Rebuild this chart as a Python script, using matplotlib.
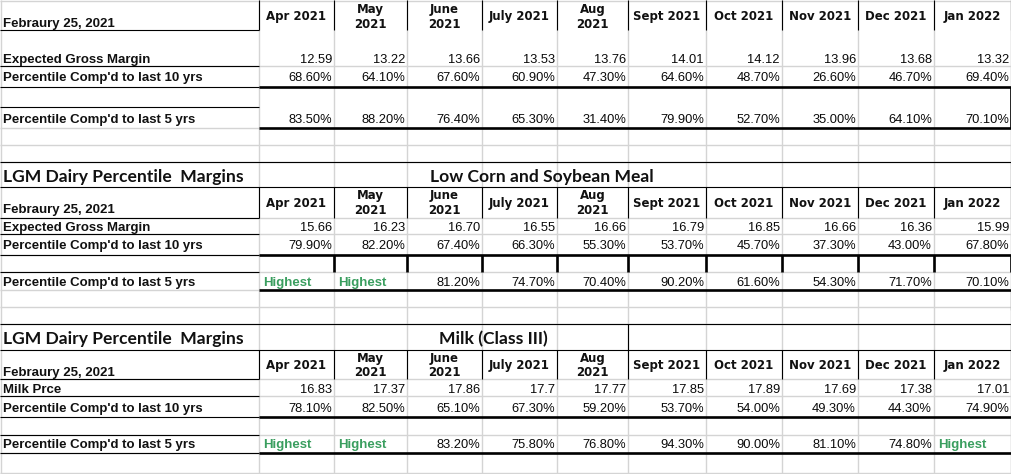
import matplotlib
matplotlib.use("Agg")
import matplotlib.pyplot as plt

# --- data ---
months = ["Apr 2021", "May\n2021", "June\n2021", "July 2021", "Aug\n2021",
          "Sept 2021", "Oct 2021", "Nov 2021", "Dec 2021", "Jan 2022"]
date_label = "Febraury 25, 2021"
title = "LGM Dairy Percentile  Margins"

egm_base = [12.59, 13.22, 13.66, 13.53, 13.76, 14.01, 14.12, 13.96, 13.68, 13.32]
p10_base = [68.6, 64.1, 67.6, 60.9, 47.3, 64.6, 48.7, 26.6, 46.7, 69.4]
p5_base = [83.5, 88.2, 76.4, 65.3, 31.4, 79.9, 52.7, 35.0, 64.1, 70.1]

egm_corn = [15.66, 16.23, 16.70, 16.55, 16.66, 16.79, 16.85, 16.66, 16.36, 15.99]
p10_corn = [79.9, 82.2, 67.4, 66.3, 55.3, 53.7, 45.7, 37.3, 43.0, 67.8]
p5_corn = [None, None, 81.2, 74.7, 70.4, 90.2, 61.6, 54.3, 71.7, 70.1]

milk = [16.83, 17.37, 17.86, 17.70, 17.77, 17.85, 17.89, 17.69, 17.38, 17.01]
p10_milk = [78.1, 82.5, 65.1, 67.3, 59.2, 53.7, 54.0, 49.3, 44.3, 74.9]
p5_milk = [None, None, 83.2, 75.8, 76.8, 94.3, 90.0, 81.1, 74.8, None]

# column edges (pixels)
cols = [259, 334, 407, 482, 557, 628, 706, 782, 858, 934, 1011]

fig = plt.figure(figsize=(10.12, 4.74), dpi=100)
ax = fig.add_axes([0, 0, 1, 1])
ax.set_xlim(0, 1012)
ax.set_ylim(474, 0)
ax.axis("off")

GRID = "#d4d4d4"
GREEN = "#3a9e5f"
TXT = "#111111"
thin = 0.8
thick = 1.9

lab_font = dict(family="Liberation Sans", weight="bold", size=9.5, color=TXT)
num_font = dict(family="Liberation Sans", size=9.3, color="#0a0a0a")
hdr_font = dict(family="DejaVu Sans", weight="bold", size=8.5, color=TXT)
ttl_font = dict(family="Lato", weight="bold", size=12.6, color=TXT)

# light spreadsheet grid
for x in cols:
    ax.vlines(x, 0, 474, color=GRID, lw=1)
ax.vlines([1, 1011], 0, 474, color=GRID, lw=1)
for y in [1, 66, 128, 145, 162, 218, 234, 255, 272, 290, 307, 324,
          379, 396, 435, 453, 473]:
    ax.hlines(y, 0, 1011, color=GRID, lw=1)


def pct(v):
    return f"{v:.2f}%"


def header(yb_single, yb_top, yb_bot, top, bot):
    for i, m in enumerate(months):
        cx = (cols[i] + cols[i + 1]) / 2
        parts = m.split("\n")
        if len(parts) == 1:
            ax.text(cx, yb_single, m, ha="center", va="baseline", **hdr_font)
        else:
            ax.text(cx, yb_top, parts[0], ha="center", va="baseline", **hdr_font)
            ax.text(cx, yb_bot, parts[1], ha="center", va="baseline", **hdr_font)
    ax.vlines(cols, top, bot, color="black", lw=thin)


def value_row(yb, vals, fmt):
    for i, v in enumerate(vals):
        if v is None:
            ax.text(cols[i] + 4, yb, "Highest", ha="left", va="baseline",
                    family="Liberation Sans", weight="bold", size=9.5, color=GREEN)
        else:
            ax.text(cols[i + 1] - 2, yb, fmt(v), ha="right", va="baseline", **num_font)


# ---------- section 1 ----------
ax.text(3, 27, date_label, va="baseline", **lab_font)
header(20, 12.7, 27.7, 0, 30)
ax.hlines(30, 0, 259, color="black", lw=thin)
ax.text(3, 63, "Expected Gross Margin", va="baseline", **lab_font)
value_row(63, egm_base, lambda v: f"{v:.2f}")
ax.hlines(66, 0, 259, color="black", lw=thin)
ax.text(3, 81, "Percentile Comp'd to last 10 yrs", va="baseline", **lab_font)
value_row(81, p10_base, pct)
ax.hlines(87, 0, 259, color="black", lw=thin)
ax.hlines(87, 259, 1011, color="black", lw=thick)
ax.hlines(107, 0, 259, color="black", lw=thin)
ax.text(3, 123, "Percentile Comp'd to last 5 yrs", va="baseline", **lab_font)
value_row(123, p5_base, pct)
ax.hlines(128, 259, 1011, color="black", lw=thick)
ax.vlines(1011, 87, 128, color="black", lw=thick)

# ---------- section 2 ----------
ax.hlines([162, 187], 0, 1011, color="black", lw=thin)
ax.vlines(1011, 162, 187, color="black", lw=thin)
ax.text(3, 182, title, va="baseline", **ttl_font)
ax.text(430, 182, "Low Corn and Soybean Meal", va="baseline", **ttl_font)
ax.text(3, 213, date_label, va="baseline", **lab_font)
header(207, 199, 214, 187, 218)
ax.hlines([218, 234, 255, 272], 0, 259, color="black", lw=thin)
ax.text(3, 231, "Expected Gross Margin", va="baseline", **lab_font)
value_row(231, egm_corn, lambda v: f"{v:.2f}")
ax.text(3, 249, "Percentile Comp'd to last 10 yrs", va="baseline", **lab_font)
value_row(249, p10_corn, pct)
ax.hlines(255, 259, 1011, color="black", lw=thick)
ax.vlines(cols[1:], 255, 272, color="black", lw=thick)
ax.text(3, 285.7, "Percentile Comp'd to last 5 yrs", va="baseline", **lab_font)
value_row(285.7, p5_corn, pct)
ax.hlines(290, 259, 1011, color="black", lw=thick)
ax.vlines(1011, 290, 310, color="black", lw=thin)

# ---------- section 3 ----------
ax.hlines([324, 350], 0, 1011, color="black", lw=thin)
ax.vlines([628, 1011], 324, 350, color="black", lw=thin)
ax.text(3, 344, title, va="baseline", **ttl_font)
ax.text(439, 344, "Milk (Class III)", va="baseline", **ttl_font)
ax.text(3, 375.7, date_label, va="baseline", **lab_font)
header(369, 362, 375.7, 350, 379)
ax.hlines([379, 396, 417, 435, 453], 0, 259, color="black", lw=thin)
ax.text(3, 392.7, "Milk Prce", va="baseline", **lab_font)
value_row(392.7, milk, lambda v: f"{v:g}")
ax.text(3, 411.7, "Percentile Comp'd to last 10 yrs", va="baseline", **lab_font)
value_row(411.7, p10_milk, pct)
ax.hlines(417, 259, 1011, color="black", lw=thick)
ax.text(3, 448, "Percentile Comp'd to last 5 yrs", va="baseline", **lab_font)
value_row(448, p5_milk, pct)
ax.hlines(453, 259, 1011, color="black", lw=thick)

fig.savefig("out.png", dpi=100)
